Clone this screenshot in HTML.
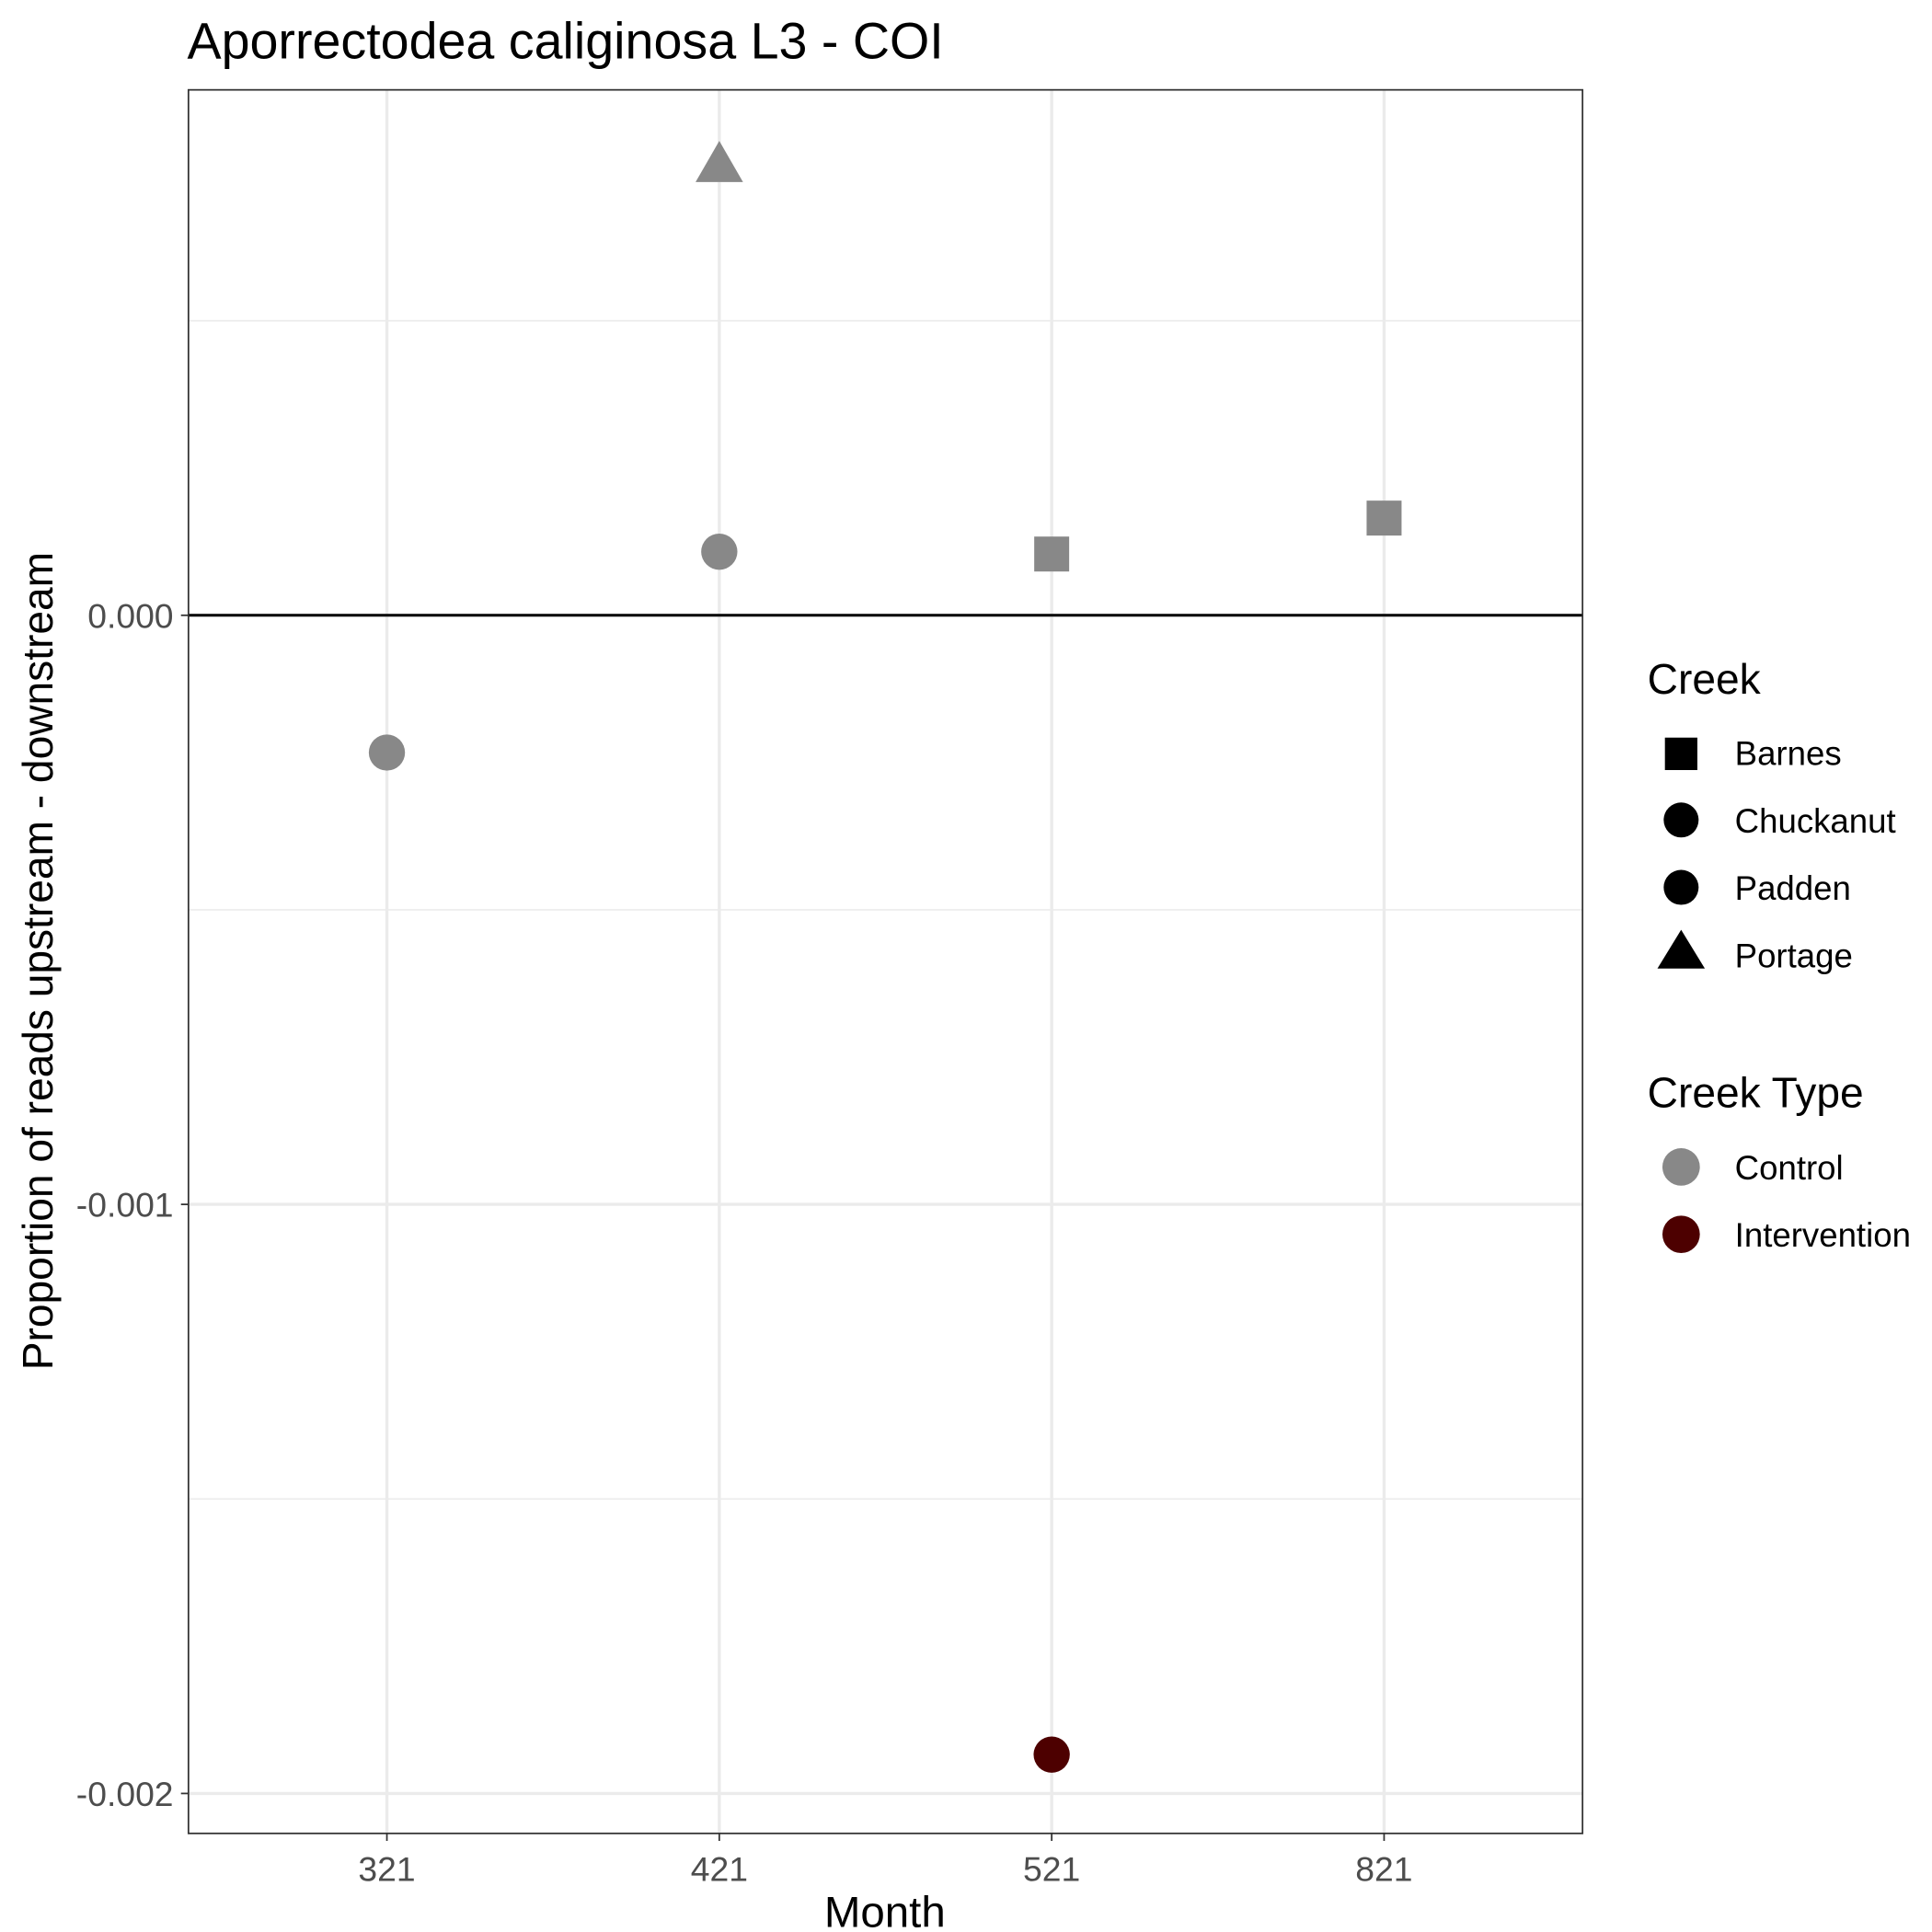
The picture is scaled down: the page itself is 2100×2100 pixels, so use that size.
<!DOCTYPE html>
<html><head><meta charset="utf-8"><style>
html,body{margin:0;padding:0;background:#fff;}
svg{display:block;font-family:"Liberation Sans",Arial,sans-serif;}
</style></head><body>
<svg id="chart" width="2100" height="2100" viewBox="0 0 1548 1548" xmlns="http://www.w3.org/2000/svg">
<rect x="0" y="0" width="1548" height="1548" fill="#fff"/>
<text x="150" y="47" font-size="41" fill="#000">Aporrectodea caliginosa L3 - COI</text>
<g id="grid"></g>
<g id="marks"></g>
<rect x="151" y="72" width="1117" height="1397" fill="none" stroke="#333" stroke-width="1.3"/>
<g id="axes"></g>
<text x="709" y="1544" font-size="35" text-anchor="middle" fill="#000">Month</text>
<text transform="translate(42,770) rotate(-90)" font-size="34" text-anchor="middle" fill="#000">Proportion of reads upstream - downstream</text>
<g>
<text x="1320" y="556" font-size="34">Creek</text>
<rect x="1334" y="591" width="26" height="26" fill="#000"/>
<text x="1390" y="613" font-size="27">Barnes</text>
<circle cx="1347" cy="657" r="14" fill="#000"/>
<text x="1390" y="667" font-size="27">Chuckanut</text>
<circle cx="1347" cy="711" r="14" fill="#000"/>
<text x="1390" y="721" font-size="27">Padden</text>
<polygon points="1347,745 1366,776 1328,776" fill="#000"/>
<text x="1390" y="775" font-size="27">Portage</text>
<text x="1320" y="887" font-size="34">Creek Type</text>
<circle cx="1347" cy="935" r="15" fill="#888"/>
<text x="1390" y="945" font-size="27">Control</text>
<circle cx="1347" cy="989" r="15" fill="#4d0000"/>
<text x="1390" y="999" font-size="27">Intervention</text>
</g>
</svg>
<script>
const categories = ["321","421","521","821"];
const pointMonth = ["321","421","421","521","521","821"];
const pointValue = [-0.000233, 0.000763, 0.000108, 0.000104, -0.001934, 0.000165];
const pointShape = ["circle","triangle","circle","square","circle","square"];
const pointType = ["Control","Control","Control","Control","Intervention","Control"];
const yTicks = [0, -0.001, -0.002];
const yTickLabels = ["0.000","-0.001","-0.002"];
const yMinor = [0.0005, -0.0005, -0.0015];

const NS="http://www.w3.org/2000/svg";
const px0=310, pxStep=266.33;
function x(cat){return px0+categories.indexOf(cat)*pxStep;}
function y(v){return 493 - v*472000;}
const grid=document.getElementById('grid'), marks=document.getElementById('marks'), axes=document.getElementById('axes');
function mk(tag,attrs,parent){const e=document.createElementNS(NS,tag);for(const k in attrs)e.setAttribute(k,attrs[k]);parent.appendChild(e);return e;}
yMinor.forEach(v=>{const l=mk('line',{x1:151,x2:1268,y1:y(v),y2:y(v),stroke:'#ebebeb','stroke-width':1.2},grid);

});
yTicks.forEach((v,i)=>{const l=mk('line',{x1:151,x2:1268,y1:y(v),y2:y(v),stroke:'#ebebeb','stroke-width':2.5},grid);


const t=mk('line',{x1:145,x2:151,y1:y(v),y2:y(v),stroke:'#333','stroke-width':1.3},axes);


const tx=mk('text',{x:139,y:y(v)+10,'font-size':27.5,'text-anchor':'end',fill:'#4d4d4d'},axes);tx.textContent=yTickLabels[i];

});
categories.forEach(c=>{const l=mk('line',{x1:x(c),x2:x(c),y1:72,y2:1469,stroke:'#ebebeb','stroke-width':2.5},grid);


const t=mk('line',{x1:x(c),x2:x(c),y1:1469,y2:1475,stroke:'#333','stroke-width':1.3},axes);


const tx=mk('text',{x:x(c),y:1507,'font-size':27.5,'text-anchor':'middle',fill:'#4d4d4d'},axes);tx.textContent=c;

});
const zl=mk('line',{x1:151,x2:1268,y1:y(0),y2:y(0),stroke:'#000','stroke-width':2.2},marks);


pointValue.forEach((v,i)=>{const cx=x(pointMonth[i]),cy=y(v);const col=pointType[i]==='Control'?'#888888':'#4d0000';let e;
if(pointShape[i]==='circle'){e=mk('circle',{cx:cx,cy:cy,r:14.5,fill:col},marks);}
else if(pointShape[i]==='square'){e=mk('rect',{x:cx-14,y:cy-14,width:28,height:28,fill:col},marks);}
else{e=mk('polygon',{points:`${cx},${cy-20} ${cx+19},${cy+13} ${cx-19},${cy+13}`,fill:col},marks);}

});
</script>
</body></html>
